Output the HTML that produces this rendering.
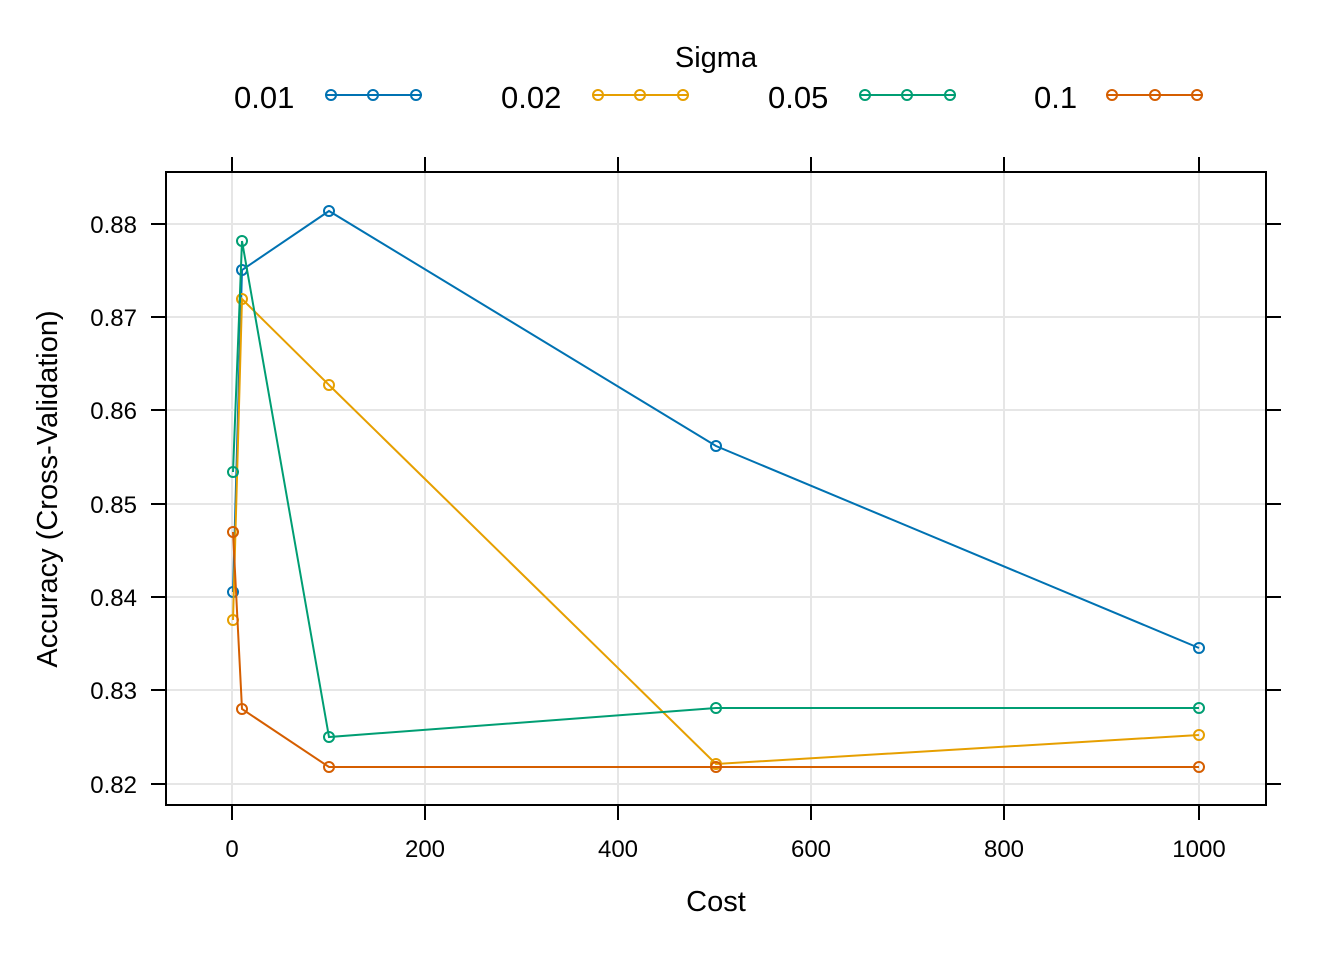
<!DOCTYPE html>
<html><head><style>body{margin:0;background:#fff}</style></head><body>
<svg width="1344" height="960" xmlns="http://www.w3.org/2000/svg" font-family="Liberation Sans, Arial, sans-serif">
<rect width="1344" height="960" fill="#fff"/>
<g stroke="#e6e6e6" stroke-width="2">
<line x1="232" y1="172" x2="232" y2="805"/><line x1="425" y1="172" x2="425" y2="805"/><line x1="618" y1="172" x2="618" y2="805"/><line x1="811" y1="172" x2="811" y2="805"/><line x1="1004" y1="172" x2="1004" y2="805"/><line x1="1199" y1="172" x2="1199" y2="805"/>
<line x1="166" y1="224" x2="1266" y2="224"/><line x1="166" y1="317" x2="1266" y2="317"/><line x1="166" y1="410" x2="1266" y2="410"/><line x1="166" y1="504" x2="1266" y2="504"/><line x1="166" y1="597" x2="1266" y2="597"/><line x1="166" y1="690" x2="1266" y2="690"/><line x1="166" y1="784" x2="1266" y2="784"/>
</g>
<rect x="166" y="172" width="1100" height="633" fill="none" stroke="#000" stroke-width="2"/>
<g stroke="#000" stroke-width="2">
<path d="M232 157V172M425 157V172M618 157V172M811 157V172M1004 157V172M1199 157V172"/>
<path d="M232 805V820M425 805V820M618 805V820M811 805V820M1004 805V820M1199 805V820"/>
<path d="M151 224H166M151 317H166M151 410H166M151 504H166M151 597H166M151 690H166M151 784H166"/>
<path d="M1266 224H1281M1266 317H1281M1266 410H1281M1266 504H1281M1266 597H1281M1266 690H1281M1266 784H1281"/>
</g>
<g font-size="24" text-anchor="middle">
<text x="232" y="857">0</text><text x="425" y="857">200</text><text x="618" y="857">400</text><text x="811" y="857">600</text><text x="1004" y="857">800</text><text x="1199" y="857">1000</text>
</g>
<g font-size="24" text-anchor="end">
<text x="137" y="233">0.88</text><text x="137" y="326">0.87</text><text x="137" y="419">0.86</text><text x="137" y="513">0.85</text><text x="137" y="606">0.84</text><text x="137" y="699">0.83</text><text x="137" y="793">0.82</text>
</g>
<text x="716" y="911" font-size="29" text-anchor="middle">Cost</text>
<text transform="translate(57,489) rotate(-90)" font-size="29" text-anchor="middle">Accuracy (Cross-Validation)</text>
<text x="716" y="67" font-size="29" text-anchor="middle">Sigma</text>
<g font-size="31">
<text x="234" y="108">0.01</text><text x="501" y="108">0.02</text><text x="768" y="108">0.05</text><text x="1034" y="108">0.1</text>
</g>
<g fill="none" stroke-width="2">
<g stroke="#0072B2"><path d="M326 95H422"/><circle cx="331" cy="95" r="5"/><circle cx="373" cy="95" r="5"/><circle cx="416" cy="95" r="5"/>
<polyline points="233,592 242,270 329,211 716,446 1199,648"/>
<circle cx="233" cy="592" r="5"/><circle cx="242" cy="270" r="5"/><circle cx="329" cy="211" r="5"/><circle cx="716" cy="446" r="5"/><circle cx="1199" cy="648" r="5"/></g>
<g stroke="#E69F00"><path d="M593 95H689"/><circle cx="598" cy="95" r="5"/><circle cx="640" cy="95" r="5"/><circle cx="683" cy="95" r="5"/>
<polyline points="233,620 242,299 329,385 716,764 1199,735"/>
<circle cx="233" cy="620" r="5"/><circle cx="242" cy="299" r="5"/><circle cx="329" cy="385" r="5"/><circle cx="716" cy="764" r="5"/><circle cx="1199" cy="735" r="5"/></g>
<g stroke="#009E73"><path d="M860 95H956"/><circle cx="865" cy="95" r="5"/><circle cx="907" cy="95" r="5"/><circle cx="950" cy="95" r="5"/>
<polyline points="233,472 242,241 329,737 716,708 1199,708"/>
<circle cx="233" cy="472" r="5"/><circle cx="242" cy="241" r="5"/><circle cx="329" cy="737" r="5"/><circle cx="716" cy="708" r="5"/><circle cx="1199" cy="708" r="5"/></g>
<g stroke="#D55E00"><path d="M1107 95H1203"/><circle cx="1112" cy="95" r="5"/><circle cx="1155" cy="95" r="5"/><circle cx="1197" cy="95" r="5"/>
<polyline points="233,532 242,709 329,767 716,767 1199,767"/>
<circle cx="233" cy="532" r="5"/><circle cx="242" cy="709" r="5"/><circle cx="329" cy="767" r="5"/><circle cx="716" cy="767" r="5"/><circle cx="1199" cy="767" r="5"/></g>
</g>
</svg>
</body></html>
